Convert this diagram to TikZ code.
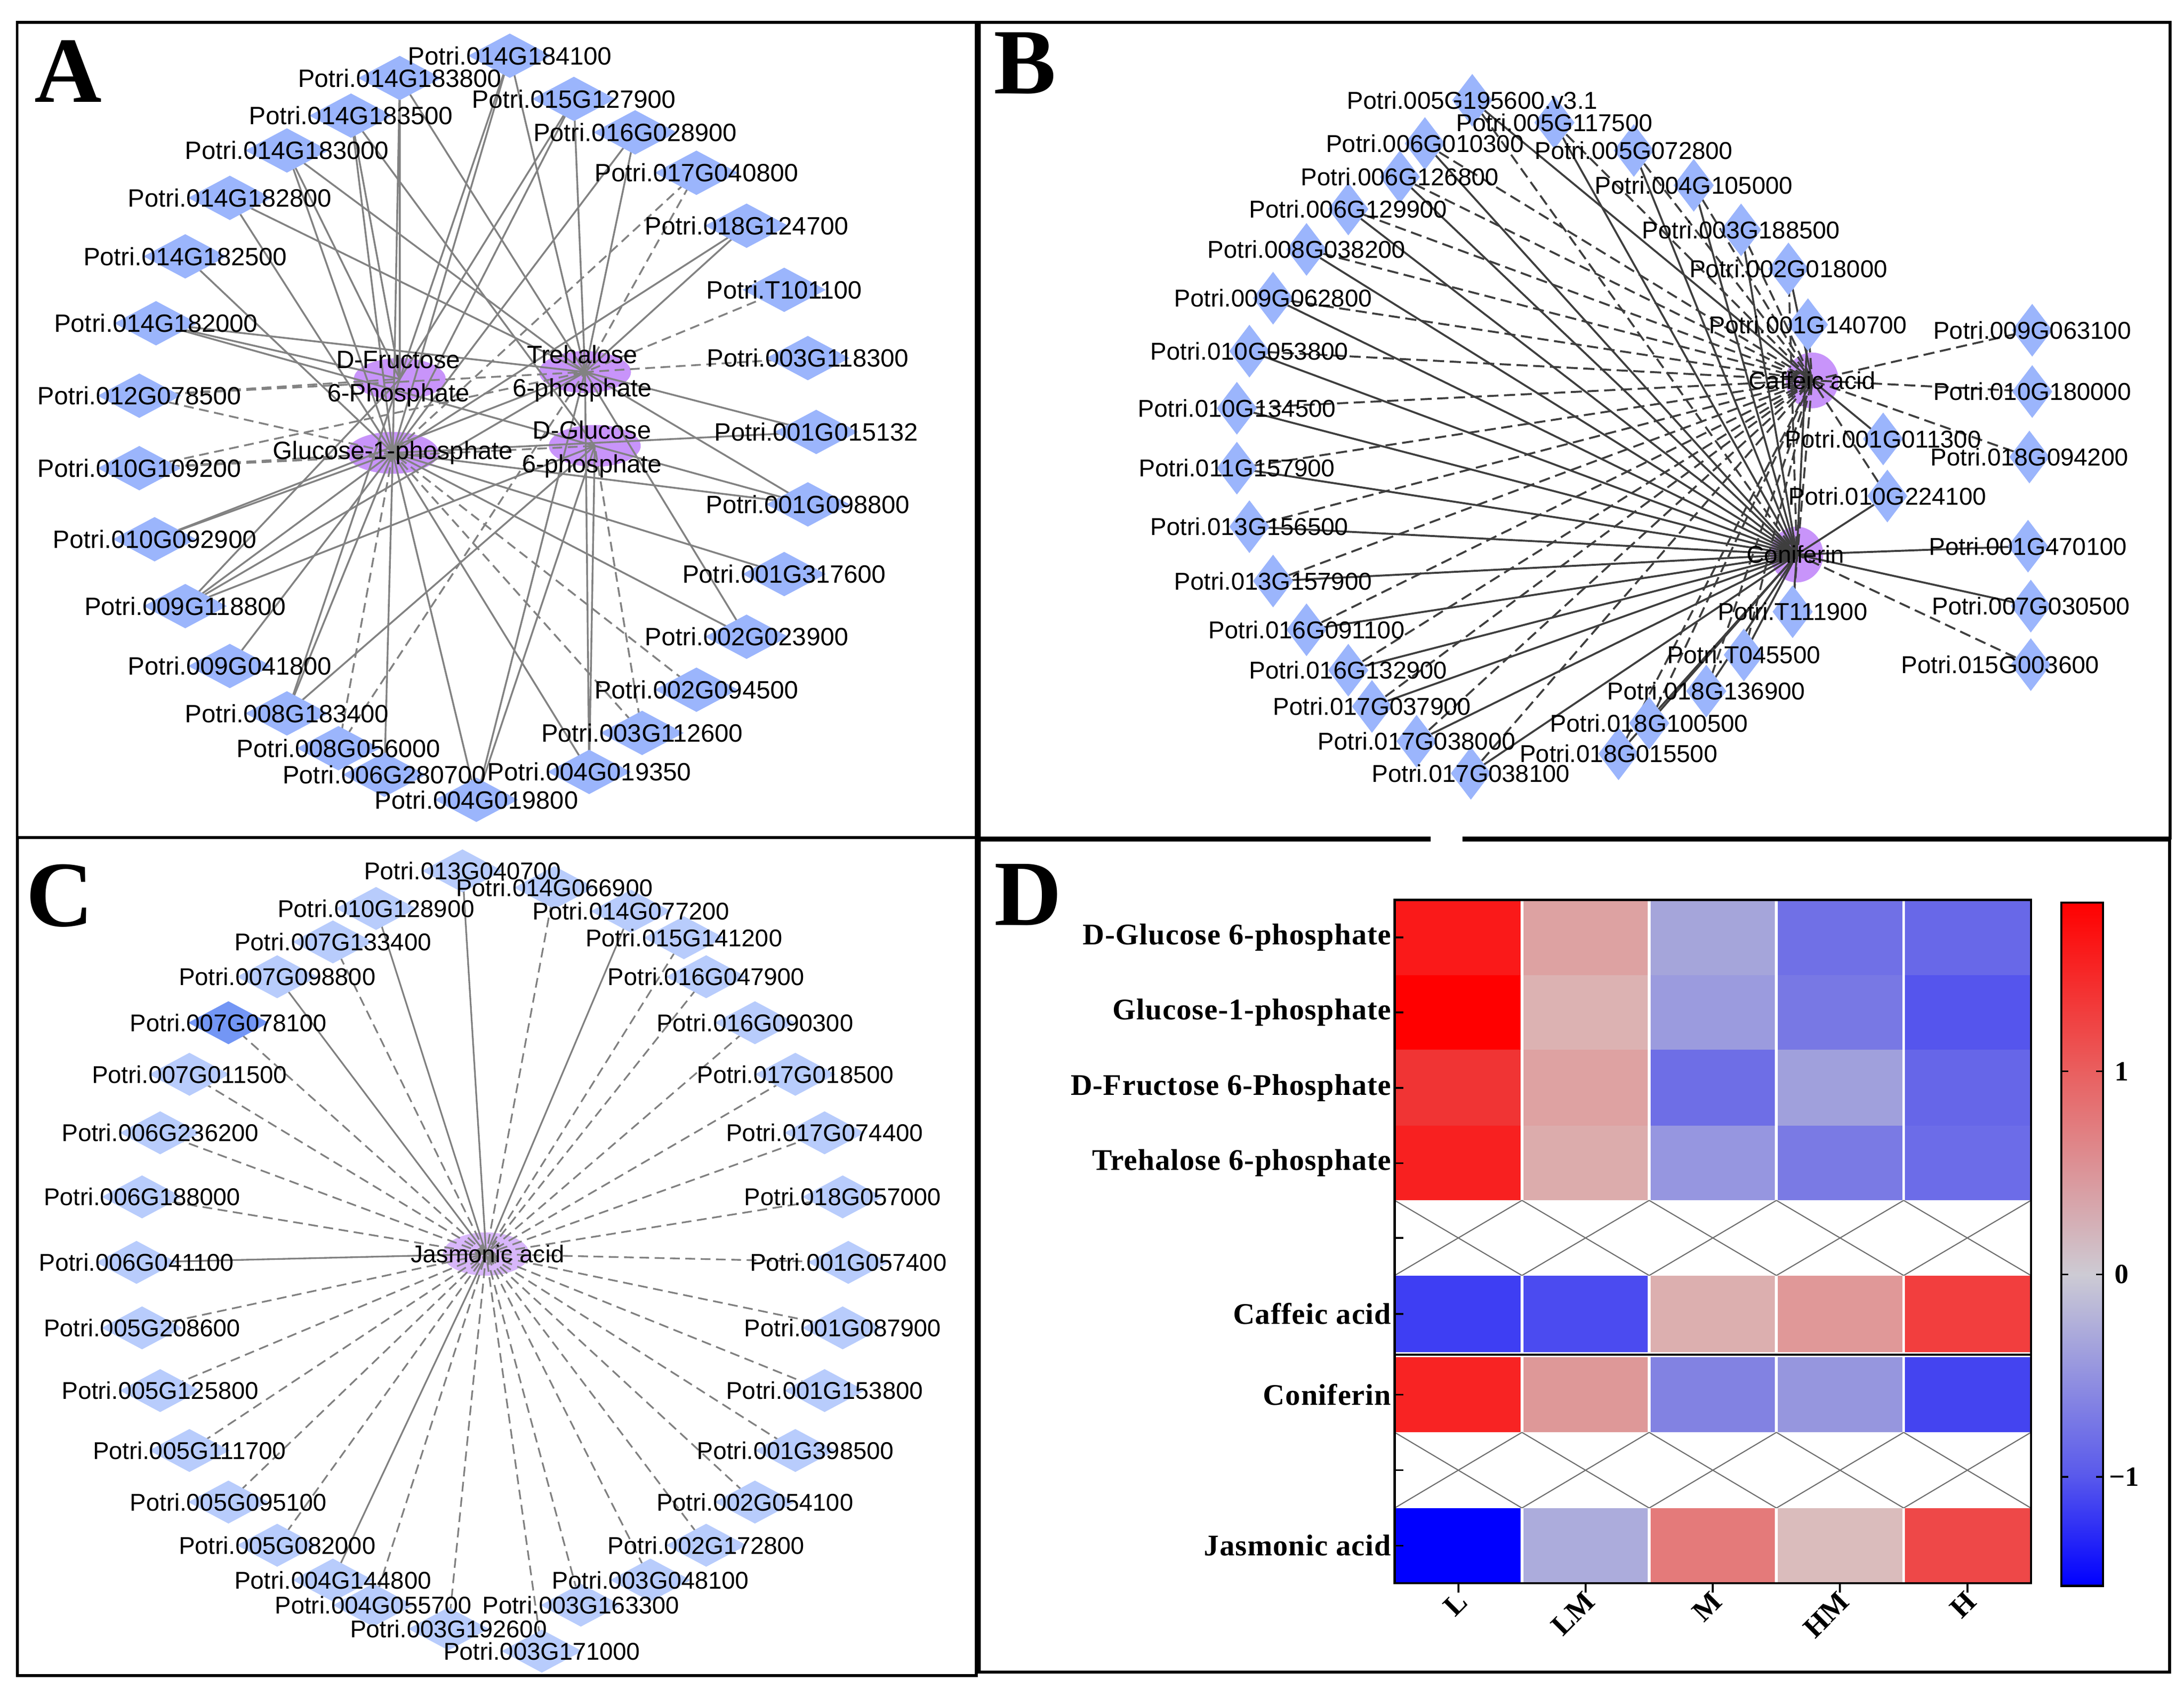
\documentclass[tikz,border=0pt]{standalone}
\usepackage{fontspec}
\setmainfont{Liberation Serif}
\newfontfamily\lsans{Liberation Sans}
\usetikzlibrary{shapes.geometric}
\pgfdeclarelayer{bg}
\pgfdeclarelayer{hubs}
\pgfdeclarelayer{edges}
\pgfdeclarelayer{labels}
\pgfsetlayers{bg,hubs,edges,main,labels}
\definecolor{dia}{RGB}{155,181,252}
\definecolor{diaC}{RGB}{184,204,252}
\definecolor{diaCd}{RGB}{115,150,245}
\definecolor{hub}{RGB}{200,148,250}
\definecolor{hubC}{RGB}{216,182,250}
\definecolor{edA}{RGB}{130,130,130}
\definecolor{edB}{RGB}{62,62,62}
\definecolor{edC}{RGB}{128,128,128}
% heatmap colours
\definecolor{q11}{RGB}{250,25,25}\definecolor{q12}{RGB}{221,162,162}\definecolor{q13}{RGB}{165,165,218}\definecolor{q14}{RGB}{112,112,230}\definecolor{q15}{RGB}{104,104,232}
\definecolor{q21}{RGB}{255,0,0}\definecolor{q22}{RGB}{220,178,178}\definecolor{q23}{RGB}{155,155,222}\definecolor{q24}{RGB}{120,120,228}\definecolor{q25}{RGB}{85,85,237}
\definecolor{q31}{RGB}{240,52,52}\definecolor{q32}{RGB}{222,162,162}\definecolor{q33}{RGB}{110,110,230}\definecolor{q34}{RGB}{160,160,220}\definecolor{q35}{RGB}{102,102,232}
\definecolor{q41}{RGB}{248,32,32}\definecolor{q42}{RGB}{220,172,172}\definecolor{q43}{RGB}{150,150,224}\definecolor{q44}{RGB}{122,122,228}\definecolor{q45}{RGB}{108,108,232}
\definecolor{q61}{RGB}{62,62,243}\definecolor{q62}{RGB}{75,75,240}\definecolor{q63}{RGB}{220,175,175}\definecolor{q64}{RGB}{224,152,152}\definecolor{q65}{RGB}{242,62,62}
\definecolor{q71}{RGB}{248,35,35}\definecolor{q72}{RGB}{222,152,152}\definecolor{q73}{RGB}{130,130,226}\definecolor{q74}{RGB}{150,150,222}\definecolor{q75}{RGB}{68,68,240}
\definecolor{q91}{RGB}{0,0,255}\definecolor{q92}{RGB}{172,172,220}\definecolor{q93}{RGB}{228,122,122}\definecolor{q94}{RGB}{218,188,188}\definecolor{q95}{RGB}{238,72,72}
\definecolor{cbA}{RGB}{255,0,0}\definecolor{cbB}{RGB}{233,95,95}\definecolor{cbC}{RGB}{205,203,212}\definecolor{cbD}{RGB}{88,88,236}\definecolor{cbE}{RGB}{0,0,255}
\tikzset{
 dA/.style={diamond, fill=dia, draw=none, inner sep=0pt, minimum width=60pt, minimum height=32pt},
 dB/.style={diamond, fill=dia, draw=none, inner sep=0pt, minimum width=29pt, minimum height=38pt},
 dC/.style={diamond, fill=diaC, draw=none, inner sep=0pt, minimum width=58pt, minimum height=31pt},
 dCd/.style={dC, fill=diaCd},
 lA/.style={font=\lsans\fontsize{18}{24}\selectfont, inner sep=0pt, align=center},
 lB/.style={font=\lsans\fontsize{17.5}{21}\selectfont, inner sep=0pt},
 lC/.style={font=\lsans\fontsize{17.4}{21}\selectfont, inner sep=0pt},
 hA/.style={ellipse, fill=hub, draw=none, inner sep=0pt, minimum width=66pt, minimum height=30pt},
 hB/.style={ellipse, fill=hub, draw=none, inner sep=0pt, minimum width=38pt, minimum height=40pt},
 hC/.style={ellipse, fill=hubC, draw=none, inner sep=0pt, minimum width=62pt, minimum height=31pt},
 eAs/.style={draw=edA, line width=1.3pt},
 eAd/.style={eAs, dash pattern=on 7pt off 4pt},
 eBs/.style={draw=edB, line width=1.4pt},
 eBd/.style={eBs, dash pattern=on 8pt off 4pt},
 eCs/.style={draw=edC, line width=1.2pt},
 eCd/.style={eCs, dash pattern=on 7pt off 4pt},
 panel/.style={draw=black, line width=2pt},
 plet/.style={font=\fontsize{67}{67}\selectfont\bfseries, inner sep=0pt},
 rlab/.style={font=\fontsize{21.5}{24}\selectfont\bfseries\addfontfeatures{LetterSpace=2}, inner sep=0pt, anchor=east},
 clab/.style={font=\fontsize{21}{24}\selectfont\bfseries, inner sep=0pt, anchor=north east, rotate=45},
 tlab/.style={font=\fontsize{20}{24}\selectfont\bfseries, inner sep=0pt, anchor=west},
}
\newcommand{\gene}[6]{\node[#1] (#3) at (#4,#5) {};
 \begin{pgfonlayer}{labels}\node[#2] (#3t) at (#4,#5) {#6};\end{pgfonlayer}}
\newcommand{\hrow}[7]{%
 \fill[#3] (1001.3,#1) rectangle (1092.66,#2);
 \fill[#4] (1092.66,#1) rectangle (1184.02,#2);
 \fill[#5] (1184.02,#1) rectangle (1275.38,#2);
 \fill[#6] (1275.38,#1) rectangle (1366.74,#2);
 \fill[#7] (1366.74,#1) rectangle (1458.1,#2);
 \foreach \xx in {1092.66,1184.02,1275.38,1366.74} \draw[white, line width=2pt] (\xx,#1) -- (\xx,#2);}
\newcommand{\xrow}[2]{%
 \foreach \xa/\xb in {1001.3/1092.66,1092.66/1184.02,1184.02/1275.38,1275.38/1366.74,1366.74/1458.1}
  {\draw[draw={rgb,255:red,110;green,110;blue,110}, line width=0.8pt] (\xa,#1) -- (\xb,#2) (\xa,#2) -- (\xb,#1);}}
\begin{document}
\begin{tikzpicture}[x=1pt,y=-1pt]
\useasboundingbox (0,0) rectangle (1568,1212);
\begin{pgfonlayer}{bg}
\fill[white] (0,0) rectangle (1568,1212);
\end{pgfonlayer}

% ================= Panel A =================
\gene{dA}{lA}{a1}{366}{40}{Potri.014G184100}
\gene{dA}{lA}{a2}{287}{56}{Potri.014G183800}
\gene{dA}{lA}{a3}{412}{71}{Potri.015G127900}
\gene{dA}{lA}{a4}{252}{83}{Potri.014G183500}
\gene{dA}{lA}{a5}{456}{95}{Potri.016G028900}
\gene{dA}{lA}{a6}{206}{108}{Potri.014G183000}
\gene{dA}{lA}{a7}{500}{124}{Potri.017G040800}
\gene{dA}{lA}{a8}{165}{142}{Potri.014G182800}
\gene{dA}{lA}{a9}{536}{162}{Potri.018G124700}
\gene{dA}{lA}{a10}{133}{184}{Potri.014G182500}
\gene{dA}{lA}{a11}{563}{208}{Potri.T101100}
\gene{dA}{lA}{a12}{112}{232}{Potri.014G182000}
\gene{dA}{lA}{a13}{580}{257}{Potri.003G118300}
\gene{dA}{lA}{a14}{100}{284}{Potri.012G078500}
\gene{dA}{lA}{a15}{586}{310}{Potri.001G015132}
\gene{dA}{lA}{a16}{100}{336}{Potri.010G109200}
\gene{dA}{lA}{a17}{580}{362}{Potri.001G098800}
\gene{dA}{lA}{a18}{111}{387}{Potri.010G092900}
\gene{dA}{lA}{a19}{563}{412}{Potri.001G317600}
\gene{dA}{lA}{a20}{133}{435}{Potri.009G118800}
\gene{dA}{lA}{a21}{536}{457}{Potri.002G023900}
\gene{dA}{lA}{a22}{165}{478}{Potri.009G041800}
\gene{dA}{lA}{a23}{500}{495}{Potri.002G094500}
\gene{dA}{lA}{a24}{206}{512}{Potri.008G183400}
\gene{dA}{lA}{a25}{461}{526}{Potri.003G112600}
\gene{dA}{lA}{a26}{243}{537}{Potri.008G056000}
\gene{dA}{lA}{a27}{423}{554}{Potri.004G019350}
\gene{dA}{lA}{a28}{276}{556}{Potri.006G280700}
\gene{dA}{lA}{a29}{342}{574}{Potri.004G019800}

% ================= Panel B =================
\gene{dB}{lB}{b1}{1057}{72}{Potri.005G195600.v3.1}
\gene{dB}{lB}{b2}{1116}{88}{Potri.005G117500}
\gene{dB}{lB}{b3}{1023}{103}{Potri.006G010300}
\gene{dB}{lB}{b4}{1173}{108}{Potri.005G072800}
\gene{dB}{lB}{b5}{1005}{127}{Potri.006G126800}
\gene{dB}{lB}{b6}{1216}{133}{Potri.004G105000}
\gene{dB}{lB}{b7}{968}{150}{Potri.006G129900}
\gene{dB}{lB}{b8}{1250}{165}{Potri.003G188500}
\gene{dB}{lB}{b9}{938}{179}{Potri.008G038200}
\gene{dB}{lB}{b10}{1284}{193}{Potri.002G018000}
\gene{dB}{lB}{b11}{914}{214}{Potri.009G062800}
\gene{dB}{lB}{b12}{1298}{233}{Potri.001G140700}
\gene{dB}{lB}{b13}{1459}{237}{Potri.009G063100}
\gene{dB}{lB}{b14}{897}{252}{Potri.010G053800}
\gene{dB}{lB}{b15}{1459}{281}{Potri.010G180000}
\gene{dB}{lB}{b16}{888}{293}{Potri.010G134500}
\gene{dB}{lB}{b17}{1352}{315}{Potri.001G011300}
\gene{dB}{lB}{b18}{1457}{328}{Potri.018G094200}
\gene{dB}{lB}{b19}{888}{336}{Potri.011G157900}
\gene{dB}{lB}{b20}{1355}{356}{Potri.010G224100}
\gene{dB}{lB}{b21}{897}{378}{Potri.013G156500}
\gene{dB}{lB}{b22}{1456}{392}{Potri.001G470100}
\gene{dB}{lB}{b23}{914}{417}{Potri.013G157900}
\gene{dB}{lB}{b24}{1458}{435}{Potri.007G030500}
\gene{dB}{lB}{b25}{1287}{439}{Potri.T111900}
\gene{dB}{lB}{b26}{938}{452}{Potri.016G091100}
\gene{dB}{lB}{b27}{1252}{470}{Potri.T045500}
\node[dB] (b28) at (1458,477) {};
\begin{pgfonlayer}{labels}\node[lB] (b28t) at (1436,477) {Potri.015G003600};\end{pgfonlayer}
\gene{dB}{lB}{b29}{968}{481}{Potri.016G132900}
\gene{dB}{lB}{b30}{1225}{496}{Potri.018G136900}
\gene{dB}{lB}{b31}{985}{507}{Potri.017G037900}
\gene{dB}{lB}{b32}{1184}{519}{Potri.018G100500}
\gene{dB}{lB}{b33}{1017}{532}{Potri.017G038000}
\gene{dB}{lB}{b34}{1162}{541}{Potri.018G015500}
\gene{dB}{lB}{b35}{1056}{555}{Potri.017G038100}

% ================= Panel C =================
\gene{dC}{lC}{c1}{332}{625}{Potri.013G040700}
\gene{dC}{lC}{c2}{398}{637}{Potri.014G066900}
\gene{dC}{lC}{c3}{270}{652}{Potri.010G128900}
\gene{dC}{lC}{c4}{453}{654}{Potri.014G077200}
\gene{dC}{lC}{c5}{239}{676}{Potri.007G133400}
\gene{dC}{lC}{c6}{491}{673}{Potri.015G141200}
\gene{dC}{lC}{c7}{199}{701}{Potri.007G098800}
\gene{dC}{lC}{c8}{507}{701}{Potri.016G047900}
\gene{dCd}{lC}{c9}{164}{734}{Potri.007G078100}
\gene{dC}{lC}{c10}{542}{734}{Potri.016G090300}
\gene{dC}{lC}{c11}{136}{771}{Potri.007G011500}
\gene{dC}{lC}{c12}{571}{771}{Potri.017G018500}
\gene{dC}{lC}{c13}{115}{813}{Potri.006G236200}
\gene{dC}{lC}{c14}{592}{813}{Potri.017G074400}
\gene{dC}{lC}{c15}{102}{859}{Potri.006G188000}
\gene{dC}{lC}{c16}{605}{859}{Potri.018G057000}
\gene{dC}{lC}{c17}{98}{906}{Potri.006G041100}
\gene{dC}{lC}{c18}{609}{906}{Potri.001G057400}
\gene{dC}{lC}{c19}{102}{953}{Potri.005G208600}
\gene{dC}{lC}{c20}{605}{953}{Potri.001G087900}
\gene{dC}{lC}{c21}{115}{998}{Potri.005G125800}
\gene{dC}{lC}{c22}{592}{998}{Potri.001G153800}
\gene{dC}{lC}{c23}{136}{1041}{Potri.005G111700}
\gene{dC}{lC}{c24}{571}{1041}{Potri.001G398500}
\gene{dC}{lC}{c25}{164}{1078}{Potri.005G095100}
\gene{dC}{lC}{c26}{542}{1078}{Potri.002G054100}
\gene{dC}{lC}{c27}{199}{1109}{Potri.005G082000}
\gene{dC}{lC}{c28}{507}{1109}{Potri.002G172800}
\gene{dC}{lC}{c29}{239}{1134}{Potri.004G144800}
\gene{dC}{lC}{c30}{467}{1134}{Potri.003G048100}
\gene{dC}{lC}{c31}{268}{1152}{Potri.004G055700}
\gene{dC}{lC}{c32}{417}{1152}{Potri.003G163300}
\gene{dC}{lC}{c33}{322}{1169}{Potri.003G192600}
\gene{dC}{lC}{c34}{389}{1185}{Potri.003G171000}

% ================= hubs =================
\begin{pgfonlayer}{hubs}
\node[hA] (hF) at (287,272) {};
\node[hA] (hT) at (420,267) {};
\node[hA] (hG1) at (282,325) {};
\node[hA] (hG6) at (427,320) {};
\node[hB] (hCa) at (1301,273) {};
\node[hB] (hCo) at (1290,398) {};
\node[hC] (hJ) at (349,900) {};
\end{pgfonlayer}
\begin{pgfonlayer}{labels}
\node[lA] (hFt) at (286,272) {D-Fructose\\6-Phosphate};
\node[lA] (hTt) at (418,268) {Trehalose\\6-phosphate};
\node[lA] (hG1t) at (282,325) {Glucose-1-phosphate};
\node[lA] (hG6t) at (425,322.5) {D-Glucose\\6-phosphate};
\node[lB] (hCat) at (1301,273) {Caffeic acid};
\node[lB] (hCot) at (1289,398) {Coniferin};
\node[lC] (hJt) at (350,900) {Jasmonic acid};
\end{pgfonlayer}

% ================= edges =================
\begin{pgfonlayer}{edges}
\foreach \g/\h in {a1/hG1,a1/hF,a1/hT,a2/hF,a2/hG1,a2/hT,a3/hF,a3/hG1,a3/hT,a4/hG1,a4/hG6,a4/hF,
  a5/hG1,a5/hT,a6/hF,a6/hT,a6/hG1,a8/hG1,a8/hT,a9/hG1,a9/hT,a10/hG1,a12/hT,a12/hF,a12/hG6,
  a15/hT,a15/hG1,a17/hT,a17/hG1,a17/hG6,a18/hG1,a18/hT,a19/hG1,a20/hG1,a20/hG6,a20/hF,a20/hT,
  a21/hT,a21/hG1,a22/hG1,a24/hG1,a24/hF,a24/hG6,a27/hG6,a27/hT,a27/hG1,a28/hG1,a29/hG1,a29/hT,a29/hG6}
  \draw[eAs] (\g.center) -- (\h.center);
\foreach \g/\h in {a7/hG1,a7/hT,a11/hT,a13/hT,a14/hF,a14/hT,a14/hG1,a16/hG1,a16/hG6,a16/hT,
  a23/hG1,a25/hG6,a25/hG1,a26/hG1,a26/hT}
  \draw[eAd] (\g.center) -- (\h.center);
\foreach \g in {b2,b3,b4,b5,b6,b7,b8,b9,b11,b12,b13,b14,b15,b16,b18,b19,b20,b21,b23,b25,b26,b27,b29,b30,b31,b32,b33,b34,b35}
  \draw[eBd] (\g.center) -- (hCa.center);
\foreach \g in {b1,b10,b17}
  \draw[eBs] (\g.center) -- (hCa.center);
\foreach \g in {b2,b3,b4,b5,b6,b7,b8,b9,b11,b12,b14,b16,b19,b20,b21,b22,b23,b24,b25,b26,b27,b29,b30,b31,b32,b33,b34,b35}
  \draw[eBs] (\g.center) -- (hCo.center);
\foreach \g in {b1,b10,b28}
  \draw[eBd] (\g.center) -- (hCo.center);
\foreach \g in {c1,c3,c4,c7,c17,c29}
  \draw[eCs] (\g.center) -- (hJ.center);
\foreach \g in {c2,c5,c6,c8,c9,c10,c11,c12,c13,c14,c15,c16,c18,c19,c20,c21,c22,c23,c24,c25,c26,c27,c28,c30,c31,c32,c33,c34}
  \draw[eCd] (\g.center) -- (hJ.center);
\end{pgfonlayer}

% ================= Panel D heatmap =================
\hrow{645.8}{699.7}{q11}{q12}{q13}{q14}{q15}
\hrow{699.7}{753.5}{q21}{q22}{q23}{q24}{q25}
\hrow{753.5}{808}{q31}{q32}{q33}{q34}{q35}
\hrow{808}{861.5}{q41}{q42}{q43}{q44}{q45}
\xrow{861.5}{915.4}
\hrow{915.4}{970.5}{q61}{q62}{q63}{q64}{q65}
\hrow{974}{1028}{q71}{q72}{q73}{q74}{q75}
\xrow{1028}{1082.3}
\hrow{1082.3}{1136.2}{q91}{q92}{q93}{q94}{q95}
\draw[line width=1.6pt] (1001.3,972.2) -- (1458.1,972.2);
\draw[line width=1.6pt] (1001.3,645.8) rectangle (1458.1,1136.2);
\foreach \yy in {672.75,726.6,780.75,834.75,888.45,942.95,1001,1055.15,1109.25}
  \draw[line width=1.2pt] (1001.3,\yy) -- (1007.5,\yy);
\foreach \xx in {1046.98,1138.34,1229.7,1321.06,1412.42}
  \draw[line width=1.4pt] (\xx,1136.2) -- (\xx,1143);
\node[rlab] (r1) at (999,672.75) {D-Glucose 6-phosphate};
\node[rlab] (r2) at (999,726.6) {Glucose-1-phosphate};
\node[rlab] (r3) at (999,780.75) {D-Fructose 6-Phosphate};
\node[rlab] (r4) at (999,834.75) {Trehalose 6-phosphate};
\node[rlab] (r6) at (999,942.95) {Caffeic acid};
\node[rlab] (r7) at (999,1001) {Coniferin};
\node[rlab] (r9) at (999,1109.25) {Jasmonic acid};
\node[clab] (k1) at (1045,1141) {L};
\node[clab] (k2) at (1136.3,1141) {LM};
\node[clab] (k3) at (1227.7,1141) {M};
\node[clab] (k4) at (1319,1141) {HM};
\node[clab] (k5) at (1410.4,1141) {H};
% colour bar
\shade[top color=cbA, bottom color=cbB] (1480,647.7) rectangle (1510,769.4);
\shade[top color=cbB, bottom color=cbC] (1480,768.9) rectangle (1510,915.1);
\shade[top color=cbC, bottom color=cbD] (1480,914.6) rectangle (1510,1060.5);
\shade[top color=cbD, bottom color=cbE] (1480,1060) rectangle (1510,1138.2);
\draw[line width=1.5pt] (1480,647.7) rectangle (1510,1138.2);
\foreach \yy in {768.9,914.6,1060}
  \draw[line width=1.2pt] (1480,\yy) -- (1485,\yy) (1505,\yy) -- (1510,\yy);
\node[tlab] (t1) at (1518,768.9) {1};
\node[tlab] (t0) at (1518,914.6) {0};
\node[tlab] (tm) at (1514,1060) {−1};

% ================= frames & letters =================
\draw[panel] (12.3,16) rectangle (701,601);
\draw[panel] (703,16) rectangle (1558,601.4);
\draw[panel] (12.5,601) rectangle (701,1202.5);
\draw[panel] (703,602.8) rectangle (1557.6,1200);
\fill[white] (1027,599) rectangle (1050,605);
\node[plet] (LA) at (49,51) {A};
\node[plet] (LB) at (736,45.5) {B};
\node[plet] (LC) at (43,643) {C};
\node[plet] (LD) at (738,642) {D};
\end{tikzpicture}
\end{document}
